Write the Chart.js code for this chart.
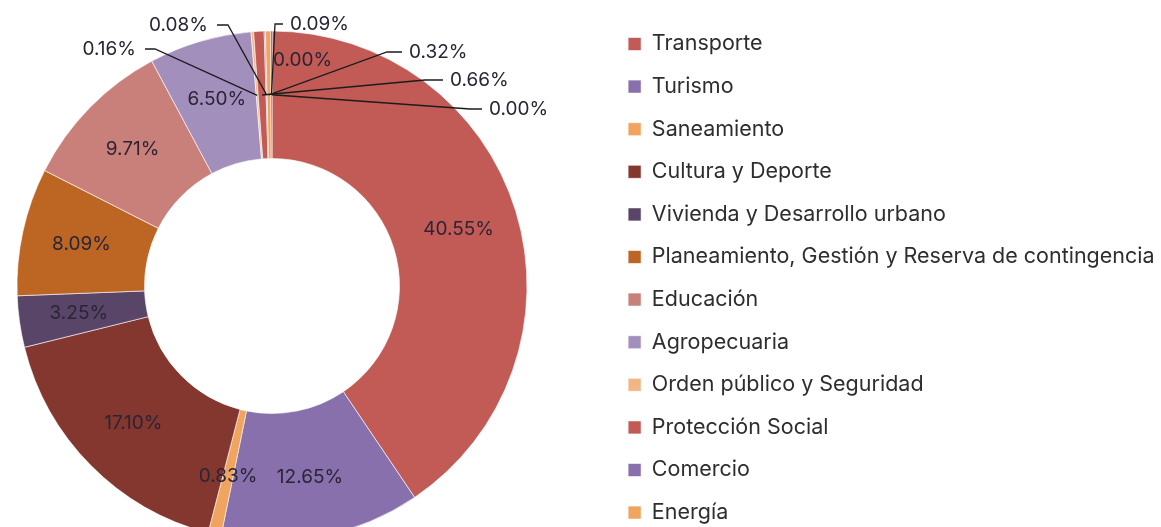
<!DOCTYPE html>
<html lang="es">
<head>
<meta charset="utf-8">
<title>Inversión por función</title>
<script src="https://cdn.jsdelivr.net/npm/chart.js@4.4.1/dist/chart.umd.min.js"></script>
<style>
  html, body { margin: 0; padding: 0; background: #fff; overflow: hidden; }
  body { width: 1161px; height: 527px; position: relative; }
  #wrap { position: absolute; left: -63px; top: 0; width: 1224px; height: 600px; }
</style>
</head>
<body>
<div id="wrap"><canvas id="inversion"></canvas></div>
<script>
// funciones y su participación (%)
const funciones = [
  "Transporte",
  "Turismo",
  "Saneamiento",
  "Cultura y Deporte",
  "Vivienda y Desarrollo urbano",
  "Planeamiento, Gestión y Reserva de contingencia",
  "Educación",
  "Agropecuaria",
  "Orden público y Seguridad",
  "Protección Social",
  "Comercio",
  "Energía",
  "Salud",
  "Ambiente",
  "Comunicaciones",
];
const porcentajes = [40.55, 12.65, 0.83, 17.1, 3.25, 8.09, 9.71, 6.5, 0.16, 0.66, 0.08, 0.32, 0.09, 0.0, 0.0];

// paleta que se repite cada 9 funciones
const paleta = [
  "#c25b56", "#8770ab", "#f0a45e", "#83372f", "#584568",
  "#bd6624", "#ca807a", "#a38fbc", "#f0b784",
];

// donde va la etiqueta de las porciones chicas (relativo al centro)
// e = codo de la guía, h = fin del tramo horizontal; sin e no hay guía
const guias = {
  8: { e: [-117, -237], h: -127, lado: "izq" },
  9: { e: [153, -206], h: 171, lado: "der" },
  10: { e: [-44, -261], h: -55, lado: "izq" },
  11: { e: [115, -234], h: 130, lado: "der" },
  12: { e: [3, -262], h: 11, lado: "der" },
  13: { t: [1, -226] },
  14: { e: [198, -177], h: 210, lado: "der" },
};

const etiquetas = {
  id: "etiquetas",
  afterDatasetsDraw(chart) {
    const ctx = chart.ctx;
    const meta = chart.getDatasetMeta(0);
    ctx.save();
    ctx.font = "19px Inter";
    ctx.fillStyle = "#2a2536";
    ctx.strokeStyle = "#1c1c1c";
    ctx.lineWidth = 1.3;
    ctx.textBaseline = "middle";
    meta.data.forEach((arc, i) => {
      const texto = porcentajes[i].toFixed(2) + "%";
      const p = arc.getProps(["x", "y", "startAngle", "endAngle", "innerRadius", "outerRadius"], true);
      const mid = (p.startAngle + p.endAngle) / 2;
      const g = guias[i];
      if (!g) {
        const r = p.innerRadius + (p.outerRadius - p.innerRadius) * 0.53;
        ctx.textAlign = "center";
        ctx.fillText(texto, p.x + Math.cos(mid) * r, p.y + Math.sin(mid) * r);
        return;
      }
      if (g.t) {
        ctx.textAlign = "left";
        ctx.fillText(texto, p.x + g.t[0], p.y + g.t[1]);
        return;
      }
      const r0 = (p.innerRadius + p.outerRadius) / 2;
      const ex = p.x + g.e[0], ey = p.y + g.e[1];
      const hx = p.x + g.h;
      ctx.beginPath();
      ctx.moveTo(p.x + Math.cos(mid) * r0, p.y + Math.sin(mid) * r0);
      ctx.lineTo(ex, ey);
      ctx.lineTo(hx, ey);
      ctx.stroke();
      if (g.lado === "izq") {
        ctx.textAlign = "right";
        ctx.fillText(texto, hx - 9, ey);
      } else {
        ctx.textAlign = "left";
        ctx.fillText(texto, hx + 7, ey);
      }
    });
    ctx.restore();
  },
};

new Chart(document.getElementById("inversion"), {
  type: "doughnut",
  data: {
    labels: funciones,
    datasets: [
      {
        data: porcentajes,
        backgroundColor: funciones.map((f, i) => paleta[i % paleta.length]),
        borderColor: "#ffffff",
        borderWidth: 0.6,
        radius: 255,
        cutout: "50%",
        hoverOffset: 0,
      },
    ],
  },
  options: {
    responsive: true,
    maintainAspectRatio: false,
    animation: false,
    layout: {
      padding: { top: 12.15, bottom: 40.15, left: 0, right: 0 },
    },
    plugins: {
      tooltip: { enabled: false },
      legend: {
        position: "right",
        align: "start",
        maxWidth: 554,
        labels: {
          boxWidth: 13,
          boxHeight: 13,
          padding: 21.1,
          color: "#2e2e2e",
          font: { family: "Inter", size: 21.5 },
          filter: (item) => item.index < 12,
        },
      },
    },
  },
  plugins: [etiquetas],
});
</script>
</body>
</html>
